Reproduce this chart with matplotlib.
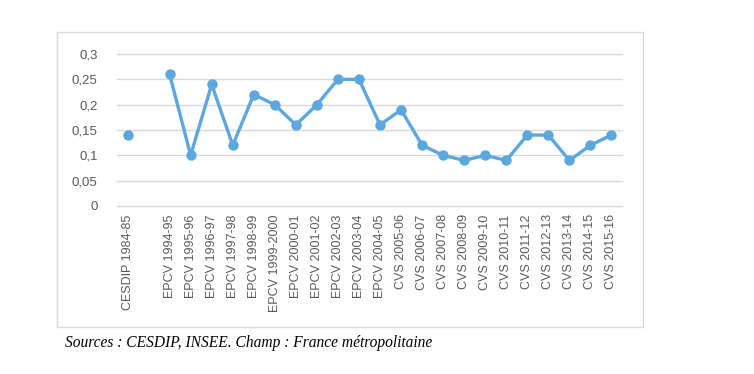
import matplotlib
matplotlib.use("Agg")
import matplotlib.pyplot as plt
import numpy as np
from matplotlib.patches import Rectangle

# survey labels (empty slot between CESDIP and EPCV as in the original)
labels = ["CESDIP 1984-85", "",
          "EPCV 1994-95", "EPCV 1995-96", "EPCV 1996-97", "EPCV 1997-98",
          "EPCV 1998-99", "EPCV 1999-2000", "EPCV 2000-01", "EPCV 2001-02",
          "EPCV 2002-03", "EPCV 2003-04", "EPCV 2004-05",
          "CVS 2005-06", "CVS 2006-07", "CVS 2007-08", "CVS 2008-09",
          "CVS 2009-10", "CVS 2010-11", "CVS 2011-12", "CVS 2012-13",
          "CVS 2013-14", "CVS 2014-15", "CVS 2015-16"]
cesdip = [0.14]
epcv = [0.26, 0.10, 0.24, 0.12, 0.22, 0.20, 0.16, 0.20, 0.25, 0.25, 0.16]
cvs = [0.19, 0.12, 0.10, 0.09, 0.10, 0.09, 0.14, 0.14, 0.09, 0.12, 0.14]
yticks = [0, 0.05, 0.1, 0.15, 0.2, 0.25, 0.3]

values = cesdip + [np.nan] + epcv + cvs
x = np.arange(len(labels))

W, H = 754, 374
fig = plt.figure(figsize=(W / 100, H / 100), dpi=100)
ax = fig.add_axes([117 / W, 1 - 206 / H, 505 / W, 152 / H])

blue = "#5BA7DE"
ax.plot(x, values, color=blue, lw=2.4, marker="o", ms=6.5,
        solid_capstyle="round", zorder=3)

ax.set_xlim(-0.5, len(labels) - 0.5)
ax.set_ylim(0, 0.3)
ax.set_yticks(yticks)
ax.set_yticklabels([f"{v:g}".replace(".", ",") for v in yticks])
ax.set_xticks(x)
ax.set_xticklabels(labels, rotation=90)
ax.grid(axis="y", color="#D9D9D9", lw=1)
for gl in ax.get_ygridlines():
    gl.set_clip_on(False)
ax.set_axisbelow(True)
for s in ax.spines.values():
    s.set_visible(False)
ax.tick_params(length=0, labelsize=9, colors="#595959", pad=6)
ax.tick_params(axis="y", pad=14, labelsize=9.5)
for t in ax.get_xticklabels() + ax.get_yticklabels():
    t.set_family("Liberation Sans")

# chart frame
fig.patches.append(Rectangle((57 / W, 1 - 327 / H), 586 / W, 295 / H,
                             transform=fig.transFigure, fill=False,
                             edgecolor="#D9D9D9", lw=1))

fig.text(65 / W, 1 - 343 / H, "Sources : CESDIP, INSEE. Champ : France métropolitaine",
         family="Liberation Serif", style="italic", fontsize=11.2, va="center")

fig.savefig("out.png", dpi=100)
